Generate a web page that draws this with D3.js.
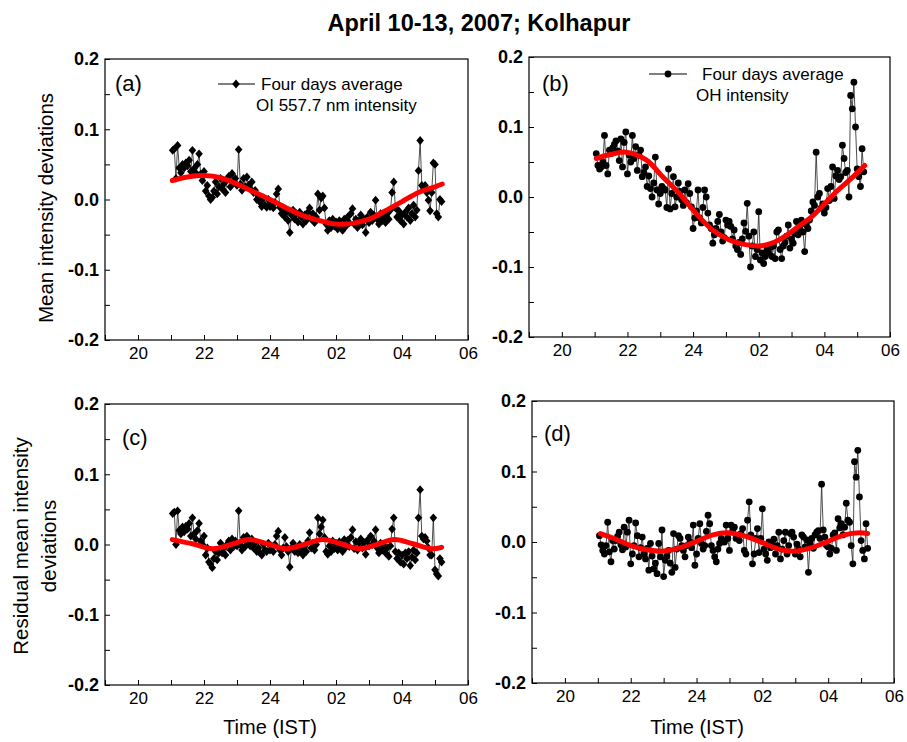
<!DOCTYPE html>
<html><head><meta charset="utf-8">
<script src="https://cdn.jsdelivr.net/npm/d3@7"></script>
<style>body{margin:0;background:#fff}svg{display:block}</style>
</head><body>
<svg id="chart" width="907" height="742"></svg>
<script>
// ---------------- data ----------------
const chartTitle = "April 10-13, 2007; Kolhapur";
const xTickHours = [19,20,21,22,23,24,25,26,27,28,29,30];
const xTickNames = {20:"20",22:"22",24:"24",26:"02",28:"04",30:"06"};
const yTickValues = [-0.2,-0.15,-0.1,-0.05,0,0.05,0.1,0.15,0.2];
const yTickNames = ["-0.2","-0.1","0.0","0.1","0.2"];
const startHour = 21.05;      // first sample (about 21:03 IST)
const sampleStepHours = 0.05; // 3-minute samples

const oiMean = [
 0.070,0.072,0.030,0.077,0.045,0.038,0.050,0.045,0.052,0.048,0.056,0.040,0.070,0.044,0.038,0.050,0.065,0.036,0.027,0.040,
 0.012,0.020,0.005,0.000,0.003,0.012,0.025,0.008,0.018,0.030,0.015,0.022,0.010,0.028,0.033,0.018,0.037,0.025,0.030,0.020,
 0.071,0.022,0.013,0.030,0.018,0.032,0.020,0.015,0.025,0.010,0.013,0.000,0.005,-0.004,-0.010,0.002,-0.008,-0.011,0.000,-0.010,
 -0.005,-0.012,-0.004,0.008,0.015,-0.011,-0.020,-0.012,-0.025,-0.018,-0.030,-0.047,-0.022,-0.015,-0.028,-0.020,-0.032,-0.018,-0.025,-0.035,
 -0.022,-0.030,-0.018,-0.012,-0.028,-0.020,-0.033,-0.025,0.008,-0.015,0.002,0.005,-0.012,-0.035,-0.044,-0.030,-0.040,-0.028,-0.038,-0.032,
 -0.042,-0.030,-0.036,-0.044,-0.028,-0.038,-0.025,-0.033,-0.020,-0.013,-0.035,-0.028,-0.040,-0.030,-0.022,-0.036,-0.028,-0.047,-0.025,-0.033,
 -0.018,-0.030,-0.022,-0.001,-0.028,-0.035,-0.020,-0.030,-0.025,-0.033,-0.020,-0.028,-0.015,0.010,0.025,-0.012,-0.025,-0.016,-0.030,-0.022,
 -0.035,-0.018,-0.025,-0.012,-0.030,-0.020,-0.008,-0.025,-0.015,0.041,0.084,0.020,0.017,0.020,0.010,-0.001,-0.016,0.010,0.052,0.050,
 -0.020,-0.025,0.000,-0.003
];
const ohMean = [
 0.062,0.045,0.040,0.043,0.050,0.088,0.045,0.033,0.067,0.062,0.070,0.075,0.080,0.066,0.052,0.083,0.043,0.078,0.093,0.033,
 0.060,0.050,0.088,0.055,0.072,0.038,0.060,0.067,0.029,0.035,0.043,0.015,0.030,0.012,0.000,0.020,0.057,0.010,-0.010,0.005,
 0.015,0.012,0.010,-0.015,0.040,-0.017,0.005,0.029,-0.014,0.000,0.020,0.008,-0.004,-0.012,0.010,-0.008,0.019,0.005,-0.014,-0.045,
 -0.030,-0.020,0.010,-0.030,-0.037,-0.015,0.010,0.000,-0.023,-0.040,-0.045,-0.066,-0.054,-0.045,-0.035,-0.025,-0.050,-0.063,-0.058,-0.033,
 -0.040,-0.035,-0.042,-0.060,-0.047,-0.070,-0.075,-0.065,-0.082,-0.060,-0.037,-0.049,-0.009,-0.056,-0.100,-0.070,-0.050,-0.085,-0.075,-0.021,
 -0.090,-0.080,-0.095,-0.085,-0.075,-0.080,-0.072,-0.085,-0.070,-0.088,-0.050,-0.047,-0.075,-0.088,-0.070,-0.065,-0.056,-0.040,-0.073,-0.060,
 -0.066,-0.052,-0.035,-0.054,-0.045,-0.033,-0.050,-0.078,-0.040,-0.045,-0.033,-0.020,-0.007,-0.012,0.064,0.000,0.005,-0.016,-0.010,-0.023,
 -0.015,0.012,-0.005,0.015,0.043,-0.002,0.030,0.038,0.025,0.029,0.074,0.055,0.035,0.038,0.000,0.145,0.126,0.164,0.100,0.040,
 0.029,0.015,0.069,0.036
];
const oiResidual = [
 0.044,0.046,0.000,0.048,0.020,0.015,0.025,0.018,0.026,0.022,0.030,0.012,0.038,0.015,0.008,0.020,0.030,0.005,0.000,0.012,
 -0.015,-0.005,-0.025,-0.028,-0.033,-0.020,-0.010,-0.022,-0.012,0.002,-0.012,-0.005,-0.015,0.000,0.005,-0.008,0.008,-0.003,0.005,-0.002,
 0.048,0.000,-0.008,0.010,-0.003,0.012,0.003,-0.002,0.008,-0.005,0.002,-0.010,-0.005,-0.012,-0.015,0.000,-0.008,-0.010,0.002,-0.008,
 -0.002,-0.010,0.000,0.012,0.019,-0.008,-0.015,-0.005,0.010,-0.003,-0.010,-0.032,-0.005,0.002,-0.010,-0.005,-0.012,0.000,-0.008,-0.015,
 -0.003,-0.010,0.005,0.017,-0.005,0.002,-0.008,0.000,0.038,0.015,0.025,0.035,0.010,-0.010,-0.014,-0.002,-0.010,0.005,-0.006,0.002,
 -0.008,0.004,-0.002,-0.010,0.007,-0.004,0.006,-0.003,0.010,0.021,-0.006,0.004,-0.008,0.002,0.008,-0.005,0.003,-0.014,0.006,-0.002,
 0.012,0.000,0.005,0.021,-0.005,-0.012,0.002,-0.008,-0.002,-0.012,-0.005,-0.017,-0.002,0.022,0.038,-0.010,-0.020,-0.012,-0.025,-0.015,
 -0.028,-0.012,-0.020,-0.010,-0.030,-0.018,-0.008,-0.022,-0.012,0.038,0.078,0.012,0.008,0.010,0.005,-0.005,-0.015,-0.015,0.038,-0.036,
 -0.042,-0.045,-0.020,-0.025
];
const ohResidual = [
 0.009,-0.004,-0.012,-0.017,-0.005,0.028,-0.014,-0.028,0.002,-0.010,0.002,0.008,0.014,-0.004,-0.011,0.021,-0.007,0.014,0.031,-0.031,
 -0.017,-0.005,0.027,0.009,-0.021,-0.008,0.007,-0.017,-0.024,-0.009,-0.040,-0.002,-0.020,-0.038,-0.030,-0.045,-0.002,-0.021,0.017,-0.049,
 -0.026,-0.020,-0.012,-0.030,-0.043,0.012,-0.036,-0.010,0.009,0.005,-0.005,-0.012,-0.021,-0.005,0.007,0.000,-0.008,0.024,-0.033,-0.017,
 0.005,0.026,-0.002,-0.010,-0.005,0.015,0.038,0.026,-0.005,-0.012,-0.021,-0.028,-0.010,-0.002,0.005,0.002,0.000,0.024,0.005,-0.012,
 0.024,0.017,0.021,0.005,0.008,0.002,0.012,0.019,-0.012,-0.017,0.031,0.057,0.010,-0.031,-0.017,0.005,0.019,-0.015,0.005,0.047,
 -0.010,-0.017,-0.026,0.000,-0.008,-0.002,0.004,-0.017,-0.005,0.014,-0.024,-0.010,0.002,0.014,-0.017,-0.005,0.012,0.014,0.007,-0.017,
 -0.003,-0.010,-0.021,0.010,0.007,-0.007,0.003,-0.043,-0.002,0.005,-0.009,0.010,0.014,0.016,0.005,0.082,0.017,0.007,-0.005,-0.007,
 -0.017,-0.009,0.010,0.013,-0.012,0.033,0.020,0.026,0.010,0.021,0.055,0.031,0.028,-0.005,-0.031,0.114,0.092,0.130,0.064,0.002,
 -0.012,-0.024,0.026,-0.009
];
// fitted curves (red), read at the listed hours
const oiFitHours = [21.04,21.5,22.0,22.5,23.0,23.5,24.0,24.5,25.0,25.5,26.0,26.5,27.0,27.5,28.0,28.5,29.0,29.22];
const oiFit      = [0.027,0.032,0.034,0.031,0.022,0.011,0.000,-0.012,-0.023,-0.030,-0.035,-0.034,-0.028,-0.016,-0.003,0.010,0.018,0.022];
const ohFitHours = [21.05,21.5,21.96,22.57,23.07,23.58,24.08,24.59,25.09,25.6,26.0,26.4,26.81,27.21,27.62,28.02,28.42,28.83,29.23];
const ohFit      = [0.055,0.061,0.064,0.053,0.029,0.005,-0.023,-0.047,-0.061,-0.068,-0.070,-0.066,-0.056,-0.042,-0.028,-0.009,0.010,0.027,0.045];
const oiResFitHours = [21.04,21.65,22.26,22.82,23.37,23.92,24.48,25.04,25.6,26.15,26.71,27.24,27.77,28.33,28.9,29.2];
const oiResFit      = [0.007,0.001,-0.006,0.000,0.007,0.001,-0.006,0.000,0.007,0.001,-0.006,0.000,0.007,0.001,-0.006,-0.004];
const ohResFitHours = [21.08,21.5,22.0,22.5,22.95,23.5,24.0,24.5,24.92,25.5,26.0,26.5,26.95,27.5,28.0,28.5,28.95,29.2];
const ohResFit      = [0.012,0.005,-0.005,-0.011,-0.013,-0.008,0.001,0.010,0.013,0.008,-0.001,-0.010,-0.013,-0.008,0.001,0.010,0.013,0.012];

const legendLine1 = "Four days average";
const legendA2 = "OI 557.7 nm intensity";
const legendB2 = "OH intensity";

// ---------------- drawing ----------------
const svg = d3.select("#chart");
const FONT = "'Liberation Sans', Arial, Helvetica, sans-serif";
const NARROW = "'Liberation Sans Narrow', 'Liberation Sans', Arial, sans-serif";

const panels = [
  {id:"(a)", vals:oiMean, fh:oiFitHours, fv:oiFit, marker:"diamond", box:[105,468,59,340], lab:[115,83],
   legend:{x1:218,x2:255,y:84,mx:236,tx:261,t2x:256,t2y:105,t2:legendA2}},
  {id:"(b)", vals:ohMean, fh:ohFitHours, fv:ohFit, marker:"circle", box:[529,890,57,337], lab:[542,83],
   legend:{x1:649,x2:687,y:74,mx:668,tx:702,t2x:696,t2y:95,t2:legendB2}},
  {id:"(c)", vals:oiResidual, fh:oiResFitHours, fv:oiResFit, marker:"diamond", box:[105,468,404,685], lab:[122,437]},
  {id:"(d)", vals:ohResidual, fh:ohResFitHours, fv:ohResFit, marker:"circle", box:[532,894,401,683], lab:[544,433]}
];

const diamondPath = "M0,-4.4L3.8,0L0,4.4L-3.8,0Z";
function drawMarker(g, x, y, type){
  if(type==="diamond") g.append("path").attr("d",diamondPath).attr("transform",`translate(${x},${y})`).attr("fill","#000");
  else g.append("circle").attr("cx",x).attr("cy",y).attr("r",3.4).attr("fill","#000");
}

panels.forEach(p=>{
  const [x0,x1,y0,y1] = p.box;
  const x = d3.scaleLinear().domain([19,30]).range([x0,x1]);
  const y = d3.scaleLinear().domain([-0.2,0.2]).range([y1,y0]);
  const g = svg.append("g");

  const pts = p.vals.map((v,i)=>({t:startHour + i*sampleStepHours, v}));
  g.append("path").datum(pts)
    .attr("d", d3.line().x(d=>x(d.t)).y(d=>y(d.v)))
    .attr("fill","none").attr("stroke","#222").attr("stroke-width",0.8);
  pts.forEach(d=>drawMarker(g, x(d.t), y(d.v), p.marker));

  const fit = p.fh.map((h,i)=>({t:h, v:p.fv[i]}));
  g.append("path").datum(fit)
    .attr("d", d3.line().curve(d3.curveCatmullRom).x(d=>x(d.t)).y(d=>y(d.v)))
    .attr("fill","none").attr("stroke","#ff0000").attr("stroke-width",5).attr("stroke-linecap","round");

  // axes
  const xa = d3.axisBottom(x).tickValues(xTickHours).tickSize(-5).tickPadding(7)
    .tickFormat(d=>xTickNames[d]||"");
  const gx = g.append("g").attr("transform",`translate(0,${y1})`).call(xa);
  gx.select(".domain").remove();
  gx.selectAll("text").attr("font-family",NARROW).attr("font-size",17).attr("fill","#000");
  gx.selectAll("line").attr("stroke","#000");

  const ya = d3.axisLeft(y).tickValues(yTickValues).tickSize(-5).tickPadding(6)
    .tickFormat(d=>{
      const k = Math.round(d*10);
      return Math.abs(d*10-k)<1e-6 ? yTickNames[k+2] : "";
    });
  const gy = g.append("g").attr("transform",`translate(${x0},0)`).call(ya);
  gy.select(".domain").remove();
  gy.selectAll("text").attr("font-family",NARROW).attr("font-weight","bold").attr("font-size",18).attr("fill","#000");
  gy.selectAll("line").attr("stroke","#000");

  g.append("rect").attr("x",x0).attr("y",y0).attr("width",x1-x0).attr("height",y1-y0)
    .attr("fill","none").attr("stroke","#000").attr("stroke-width",1.2);

  g.append("text").attr("x",p.lab[0]).attr("y",p.lab[1]).attr("dominant-baseline","central")
    .attr("font-family",FONT).attr("font-size",22).text(p.id);

  if(p.legend){
    const L = p.legend;
    g.append("line").attr("x1",L.x1).attr("x2",L.x2).attr("y1",L.y).attr("y2",L.y).attr("stroke","#000").attr("stroke-width",1);
    drawMarker(g, L.mx, L.y, p.marker);
    g.append("text").attr("x",L.tx).attr("y",L.y).attr("dominant-baseline","central")
      .attr("font-family",FONT).attr("font-size",17).text(legendLine1);
    g.append("text").attr("x",L.t2x).attr("y",L.t2y).attr("dominant-baseline","central")
      .attr("font-family",FONT).attr("font-size",17).text(L.t2);
  }
});

svg.append("text").attr("x",479).attr("y",23).attr("text-anchor","middle").attr("dominant-baseline","central")
  .attr("font-family",NARROW).attr("font-weight","bold").attr("font-size",23.5).text(chartTitle);

svg.append("text").attr("transform","translate(45,208) rotate(-90)").attr("text-anchor","middle").attr("dominant-baseline","central")
  .attr("font-family",FONT).attr("font-size",20.5).text("Mean intensity deviations");
svg.append("text").attr("transform","translate(20,546) rotate(-90)").attr("text-anchor","middle").attr("dominant-baseline","central")
  .attr("font-family",FONT).attr("font-size",20.5).text("Residual mean intensity");
svg.append("text").attr("transform","translate(48,546) rotate(-90)").attr("text-anchor","middle").attr("dominant-baseline","central")
  .attr("font-family",FONT).attr("font-size",20.5).text("deviations");

svg.append("text").attr("x",270).attr("y",727).attr("text-anchor","middle").attr("dominant-baseline","central")
  .attr("font-family",NARROW).attr("font-size",20).text("Time (IST)");
svg.append("text").attr("x",697).attr("y",727).attr("text-anchor","middle").attr("dominant-baseline","central")
  .attr("font-family",NARROW).attr("font-size",20).text("Time (IST)");
</script>
</body></html>
